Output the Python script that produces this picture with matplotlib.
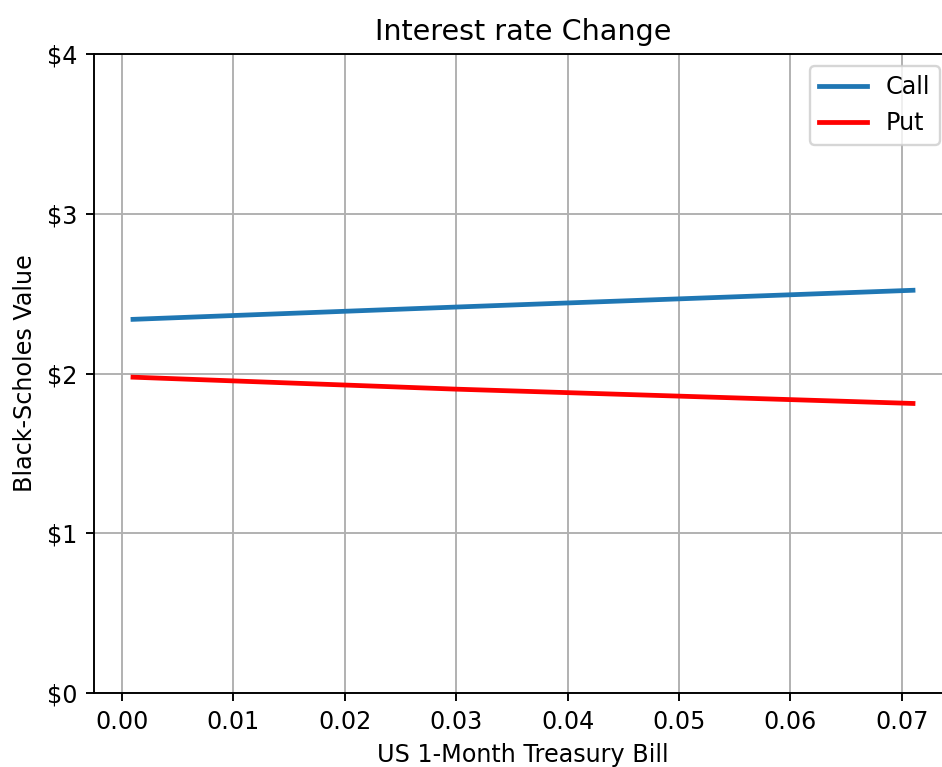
import matplotlib
matplotlib.use("Agg")
import matplotlib.pyplot as plt
from matplotlib.ticker import FuncFormatter

rates = [0.001, 0.03, 0.071]
call_values = [2.339, 2.416, 2.521]
put_values = [1.977, 1.902, 1.8125]

DPI = 171.6
W, H = 942, 767
fig = plt.figure(figsize=(W / DPI, H / DPI), dpi=DPI)
# right spine lies just beyond the right edge of the image
ax = fig.add_axes([94 / W, 1 - 693 / H, (952 - 94) / W, (693 - 54) / H])

ax.plot(rates, call_values, color="#1f77b4", lw=2, label="Call")
ax.plot(rates, put_values, color="red", lw=2, label="Put")

ax.set_ylim(0, 4)
ax.set_yticks([0, 1, 2, 3, 4])
ax.yaxis.set_major_formatter(FuncFormatter(lambda v, p: f"${v:.0f}"))
ax.set_xticks([0.0, 0.01, 0.02, 0.03, 0.04, 0.05, 0.06, 0.07])
ax.set_xticklabels(["0.00", "0.01", "0.02", "0.03", "0.04", "0.05", "0.06", "0.07"])
ax.grid(True)
ax.set_title("Interest rate Change")
ax.set_xlabel("US 1-Month Treasury Bill")
ax.set_ylabel("Black-Scholes Value")
ax.legend(loc="upper right")

fig.savefig("out.png", dpi=DPI)
